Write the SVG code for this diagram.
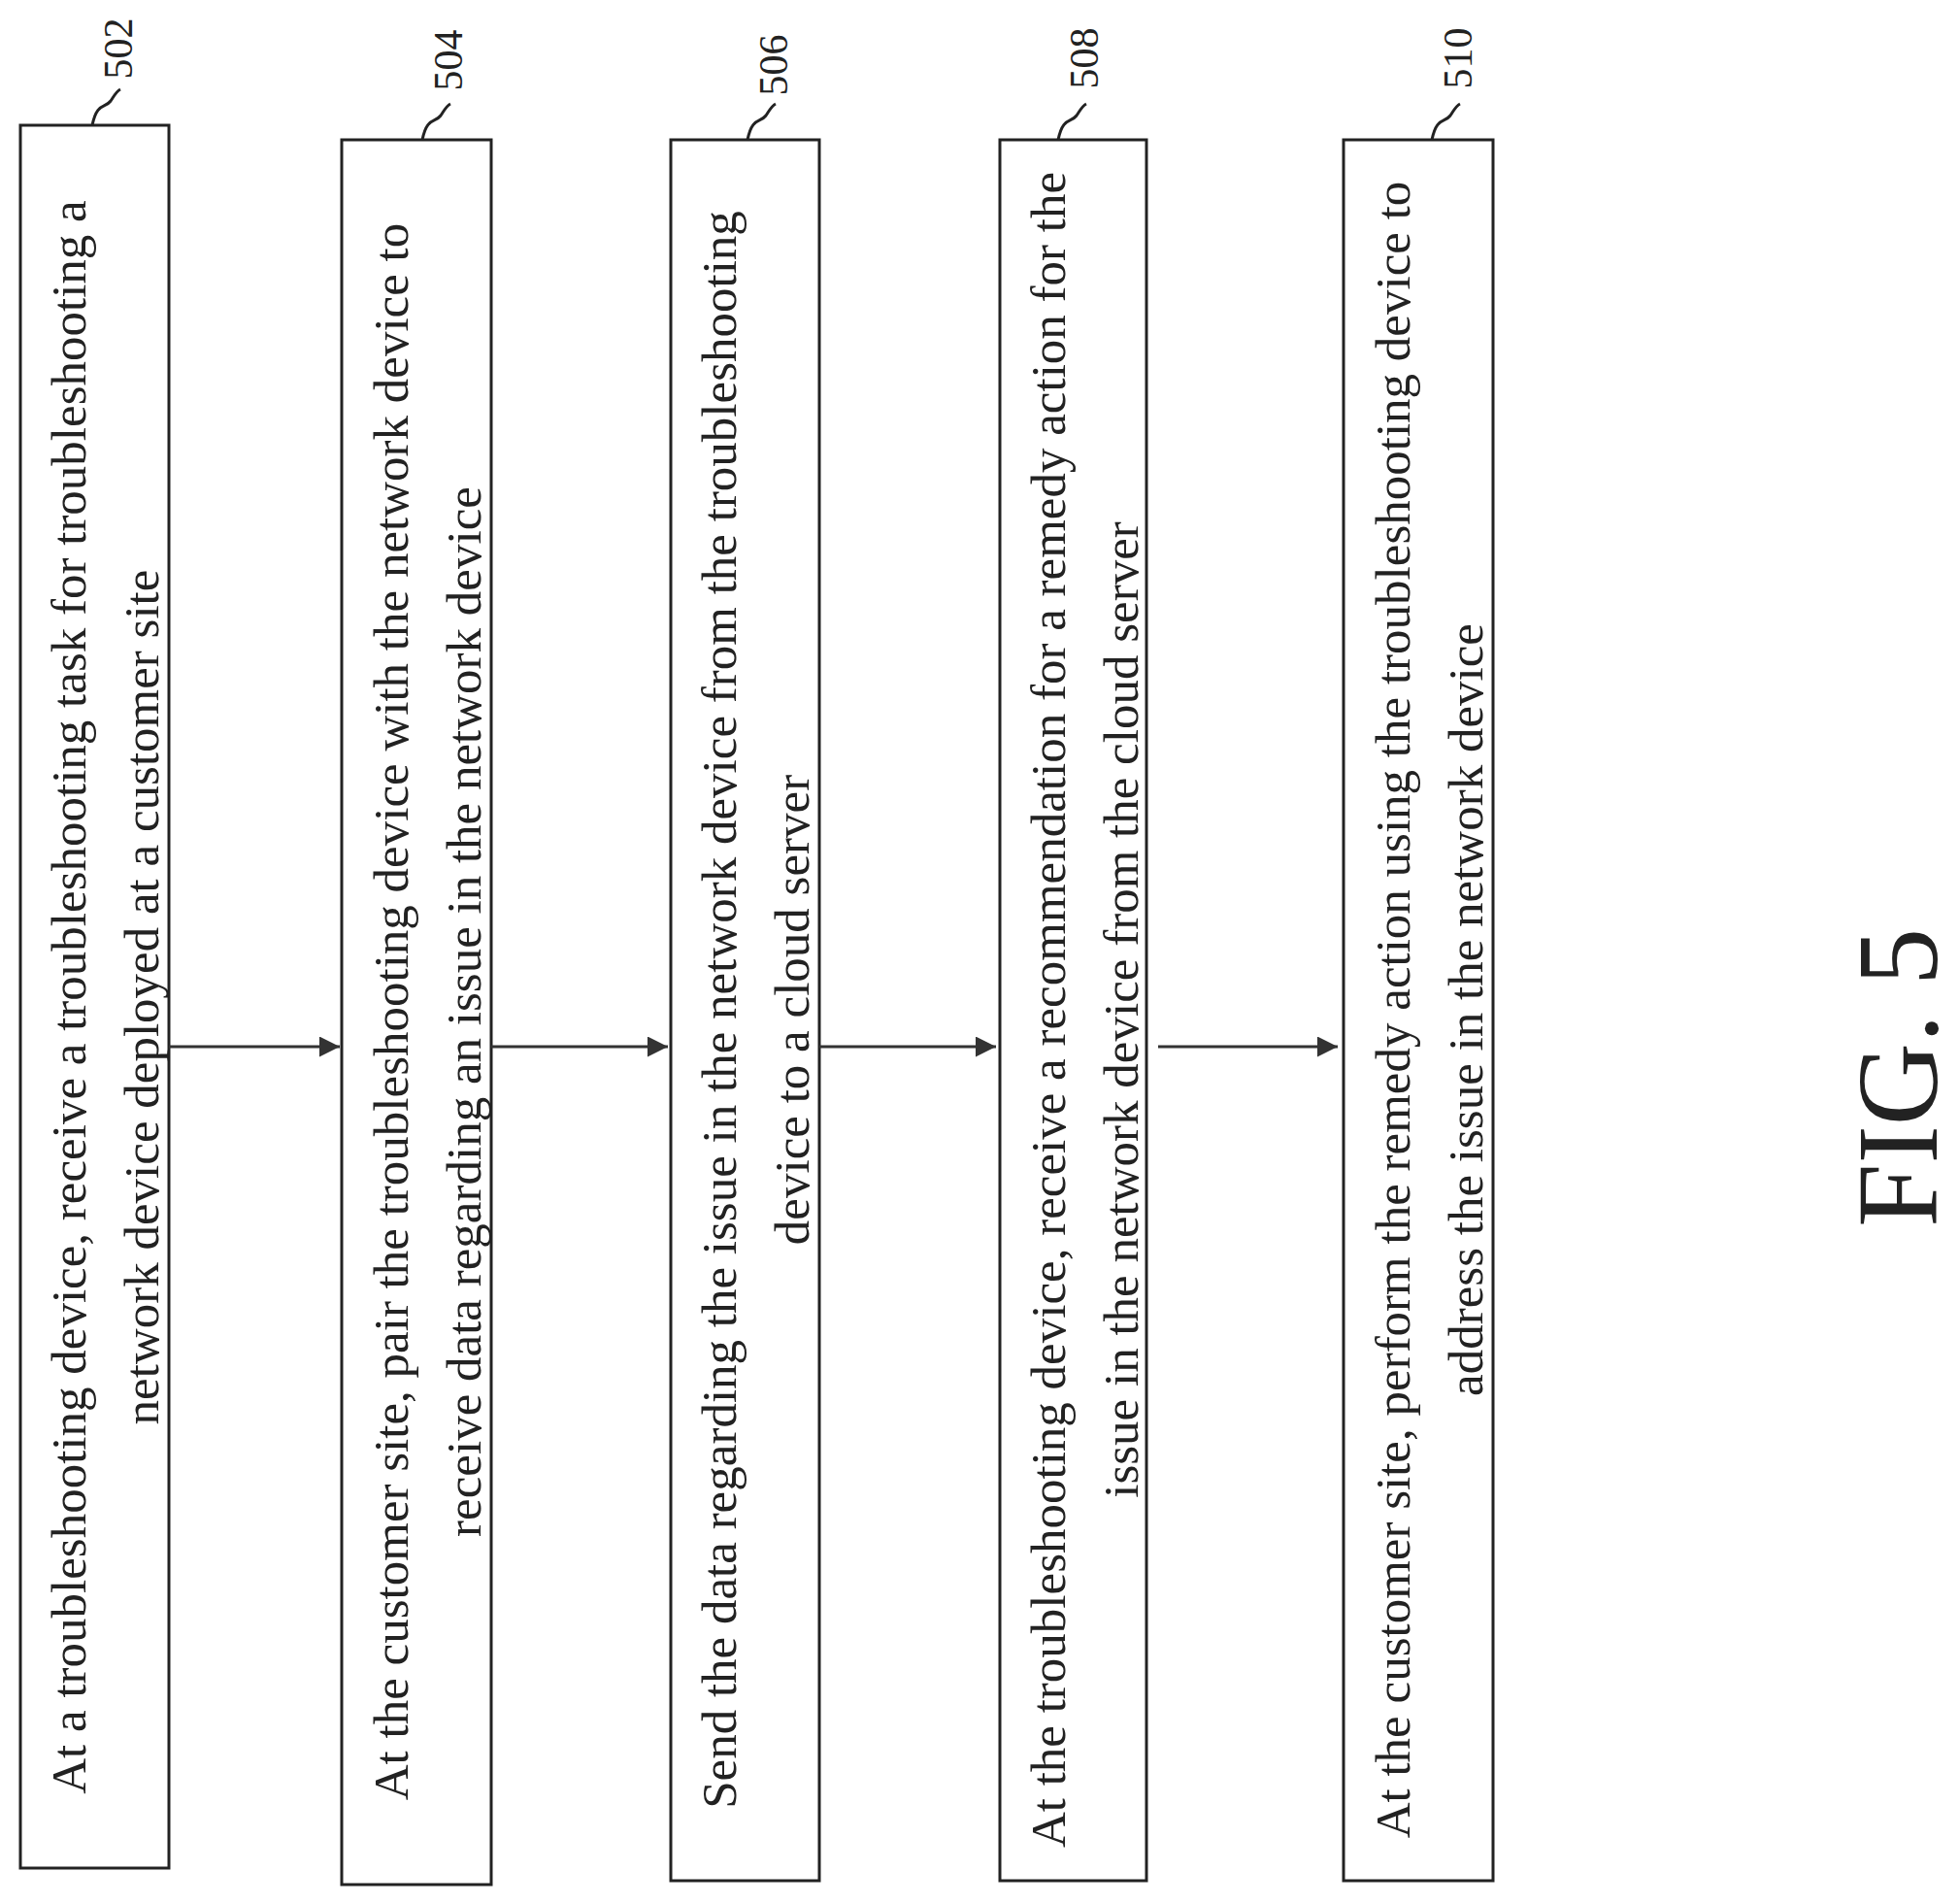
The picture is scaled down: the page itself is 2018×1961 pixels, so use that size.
<svg xmlns="http://www.w3.org/2000/svg" width="2018" height="1961" viewBox="0 0 2018 1961">
<defs>
<style>
.box{fill:#fff;stroke:#222;stroke-width:3}
.t{font-family:"Liberation Serif",serif;font-size:51px;fill:#222;text-anchor:middle}
.lbl{font-family:"Liberation Serif",serif;font-size:42px;fill:#222;text-anchor:middle}
.sq{fill:none;stroke:#222;stroke-width:3}
.c{stroke:#333;stroke-width:3;fill:none}
</style>
<marker id="ah" viewBox="0 0 10 10" refX="10" refY="5" markerWidth="7" markerHeight="7" orient="auto" markerUnits="strokeWidth"><path d="M0,0L10,5L0,10z" fill="#333"/></marker>
</defs>
<rect width="2018" height="1961" fill="#fff"/>
<g id="n502">
<rect class="box" x="21" y="129" width="153" height="1795"/>
<text class="t" transform="translate(88,1027) rotate(-90)">At a troubleshooting device, receive a troubleshooting task for troubleshooting a</text>
<text class="t" transform="translate(163,1027) rotate(-90)">network device deployed at a customer site</text>
<path class="sq" d="M95,129 C100,105 108,112 114,104 C118,98 120,94 124,92"/>
<text class="lbl" transform="translate(136,50) rotate(-90)">502</text>
</g>
<g id="n504">
<rect class="box" x="352" y="144" width="154" height="1797"/>
<text class="t" transform="translate(420,1042) rotate(-90)">At the customer site, pair the troubleshooting device with the network device to</text>
<text class="t" transform="translate(495,1042) rotate(-90)">receive data regarding an issue in the network device</text>
<path class="sq" d="M435,144 C440,120 448,127 454,119 C458,113 460,109 464,107"/>
<text class="lbl" transform="translate(476,62) rotate(-90)">504</text>
</g>
<g id="n506">
<rect class="box" x="691" y="144" width="153" height="1793"/>
<text class="t" transform="translate(758,1040) rotate(-90)">Send the data regarding the issue in the network device from the troubleshooting</text>
<text class="t" transform="translate(833,1040) rotate(-90)">device to a cloud server</text>
<path class="sq" d="M770,144 C775,120 783,127 789,119 C793,113 795,109 799,107"/>
<text class="lbl" transform="translate(811,67) rotate(-90)">506</text>
</g>
<g id="n508">
<rect class="box" x="1030" y="144" width="151" height="1793"/>
<text class="t" transform="translate(1097,1040) rotate(-90)">At the troubleshooting device, receive a recommendation for a remedy action for the</text>
<text class="t" transform="translate(1172,1040) rotate(-90)">issue in the network device from the cloud server</text>
<path class="sq" d="M1090,144 C1095,120 1103,127 1109,119 C1113,113 1115,109 1119,107"/>
<text class="lbl" transform="translate(1131,60) rotate(-90)">508</text>
</g>
<g id="n510">
<rect class="box" x="1384" y="144" width="154" height="1793"/>
<text class="t" transform="translate(1452,1040) rotate(-90)">At the customer site, perform the remedy action using the troubleshooting device to</text>
<text class="t" transform="translate(1527,1040) rotate(-90)">address the issue in the network device</text>
<path class="sq" d="M1475,144 C1480,120 1488,127 1494,119 C1498,113 1500,109 1504,107"/>
<text class="lbl" transform="translate(1516,60) rotate(-90)">510</text>
</g>
<g id="connectors">
<line class="c" x1="174" y1="1078" x2="350" y2="1078" marker-end="url(#ah)"/>
<line class="c" x1="506" y1="1078" x2="688" y2="1078" marker-end="url(#ah)"/>
<line class="c" x1="844" y1="1078" x2="1026" y2="1078" marker-end="url(#ah)"/>
<line class="c" x1="1193" y1="1078" x2="1378" y2="1078" marker-end="url(#ah)"/>
</g>
<text font-family="Liberation Serif,serif" font-size="118" fill="#222" text-anchor="middle" transform="translate(1995,1110) rotate(-90)">FIG. 5</text>
</svg>
